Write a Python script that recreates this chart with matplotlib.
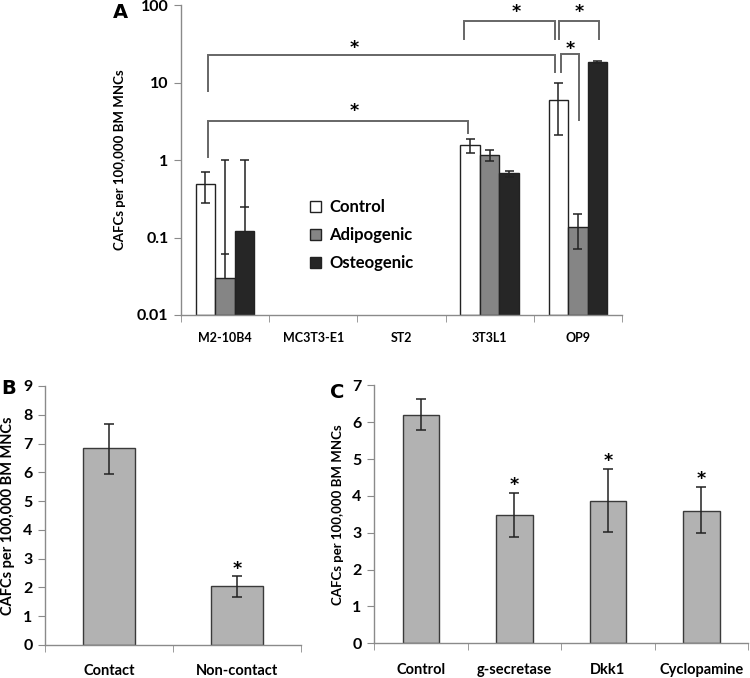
import numpy as np
import matplotlib.pyplot as plt
from matplotlib.patches import Patch

plt.rcParams['font.family'] = ['Lato', 'DejaVu Sans']
plt.rcParams['font.weight'] = 'bold'

# ---- panel A data (log scale) ----
cells = ['M2-10B4', 'MC3T3-E1', 'ST2', '3T3L1', 'OP9']
groups = ['Control', 'Adipogenic', 'Osteogenic']
a_idx = [0, 3, 4]  # cell lines that have bars
a_vals = {
    'Control':    [0.485, 1.54, 5.98],
    'Adipogenic': [0.030, 1.16, 0.137],
    'Osteogenic': [0.120, 0.67, 18.6],
}
a_hi = {
    'Control':    [0.71, 1.86, 9.9],
    'Adipogenic': [1.0, 1.34, 0.20],
    'Osteogenic': [1.0, 0.73, 19.2],
}
a_lo = {
    'Control':    [0.28, 1.23, 2.09],
    'Adipogenic': [0.062, 0.97, 0.072],
    'Osteogenic': [0.25, 0.61, 18.1],
}
a_colors = {'Control': 'white', 'Adipogenic': '#858585', 'Osteogenic': '#262626'}

# significance brackets: (x_left, x_right, y_top, y_left_end, y_right_end)
brackets = [
    (-0.19, 3.735, 22.4, 7.7, 13.6),
    (-0.19, 2.75, 3.19, 1.1, 2.24),
    (2.71, 3.735, 63, 36, 36),
    (3.785, 4.24, 63, 36, 36),
    (3.81, 4.01, 23.1, 13.6, 3.3),
]
stars_a = [(1.46, 32), (1.46, 5.0), (3.30, 95), (4.01, 95), (3.91, 31)]

# ---- panel B data ----
b_labels = ['Contact', 'Non-contact']
b_vals = [6.84, 2.06]
b_hi = [7.67, 2.41]
b_lo = [5.94, 1.66]
b_star = [False, True]

# ---- panel C data ----
c_labels = ['Control', 'g-secretase', 'Dkk1', 'Cyclopamine']
c_vals = [6.20, 3.48, 3.86, 3.60]
c_hi = [6.64, 4.09, 4.73, 4.24]
c_lo = [5.79, 2.88, 3.02, 2.98]
c_star = [False, True, True, True]

spine_col = '#8a8a8a'
bar_gray = '#b2b2b2'
edge_col = '#3a3a3a'
err_col = '#222222'
star_font = ['DejaVu Sans']


def style_axes(ax, ncat):
    for s in ['top', 'right']:
        ax.spines[s].set_visible(False)
    for s in ['left', 'bottom']:
        ax.spines[s].set_color(spine_col)
        ax.spines[s].set_linewidth(1.0)
    ax.set_xlim(-0.5, ncat - 0.5)
    ax.set_xticks(np.arange(ncat))
    ax.set_xticks(np.arange(ncat + 1) - 0.5, minor=True)
    ax.tick_params(axis='x', which='major', length=0, pad=14)
    ax.tick_params(axis='x', which='minor', length=5, color=spine_col, direction='out')
    ax.tick_params(axis='y', which='major', length=5, color=spine_col, direction='out', pad=4)
    ax.tick_params(axis='y', which='minor', length=0)


def star(ax, x, y, dy=0):
    # glyph centre sits ~7.1pt above the baseline at this size
    ax.annotate('*', (x, y), xytext=(0, dy - 7.1), textcoords='offset points',
                ha='center', va='baseline', fontsize=12.5, fontweight='bold',
                family=star_font, annotation_clip=False)


fig = plt.figure(figsize=(7.5, 6.78), dpi=100)

# ================= panel A =================
axA = fig.add_axes([0.2413, 0.5354, 0.588, 0.4572])
axA.set_yscale('log')
w = 0.222
x = np.array(a_idx, dtype=float)
for k, g in enumerate(groups):
    xs = x + (k - 1) * w
    axA.bar(xs, np.array(a_vals[g]) - 0.01, width=w, bottom=0.01, color=a_colors[g],
            edgecolor='#222222', linewidth=1.0, zorder=2)
    for xi, v, hi, lo in zip(xs, a_vals[g], a_hi[g], a_lo[g]):
        axA.vlines(xi, min(v, lo), hi, color=err_col, lw=1.1, zorder=3)
        axA.hlines([lo, hi], xi - 0.05, xi + 0.05, color=err_col, lw=1.1, zorder=3)

for xl, xr, yt, yl, yr in brackets:
    axA.plot([xl, xl, xr, xr], [yl, yt, yt, yr], color='#666666', lw=1.4,
             solid_joinstyle='miter', zorder=1)
for sx, sy in stars_a:
    star(axA, sx, sy)

axA.set_ylim(0.01, 100)
axA.set_yticks([0.01, 0.1, 1, 10, 100])
axA.set_yticklabels(['0.01', '0.1', '1', '10', '100'], fontsize=11.5, fontweight='bold')
style_axes(axA, len(cells))
axA.set_xticklabels(cells, fontsize=9, fontweight='bold')
axA.tick_params(axis='x', which='major', pad=12)
axA.set_ylabel('CAFCs per 100,000 BM MNCs', fontsize=9.5, fontweight='bold', labelpad=8)

handles = [Patch(facecolor=a_colors[g], edgecolor='#222222', linewidth=1.0) for g in groups]
axA.legend(handles, groups, loc='upper left', bbox_to_anchor=(310 / 750, 1 - 199 / 678),
           bbox_transform=fig.transFigure, frameon=False,
           prop={'weight': 'bold', 'size': 12}, handlelength=0.66, handleheight=0.66,
           handletextpad=0.5, labelspacing=0.72, borderpad=0, borderaxespad=0)
fig.text(113 / 750, 1 - 12 / 678, 'A', fontsize=14, fontweight='heavy', ha='left', va='center',
         family=['DejaVu Sans'])

# ================= panel B =================
axB = fig.add_axes([0.06, 0.0487, 0.3413, 0.382])
bx = np.arange(len(b_labels))
axB.bar(bx, b_vals, width=0.4, color=bar_gray, edgecolor=edge_col, linewidth=1.0, zorder=2)
axB.errorbar(bx, b_vals, yerr=[np.array(b_vals) - np.array(b_lo), np.array(b_hi) - np.array(b_vals)],
             fmt='none', ecolor=err_col, elinewidth=1.1, capsize=3.7, capthick=1.1, zorder=3)
for xi, hi, s in zip(bx, b_hi, b_star):
    if s:
        star(axB, xi, hi, dy=8)
axB.set_ylim(0, 9)
axB.set_yticks(range(0, 10))
axB.set_yticklabels([str(i) for i in range(0, 10)], fontsize=11.5, fontweight='bold')
style_axes(axB, len(b_labels))
axB.set_xticklabels(b_labels, fontsize=10.5, fontweight='bold')
axB.set_ylabel('CAFCs per 100,000 BM MNCs', fontsize=10.5, fontweight='bold', labelpad=6)
fig.text(1 / 750, 1 - 388 / 678, 'B', fontsize=14, fontweight='heavy', ha='left', va='center',
         family=['DejaVu Sans'])

# ================= panel C =================
axC = fig.add_axes([0.4987, 0.0512, 0.4987, 0.3805])
cx = np.arange(len(c_labels))
axC.bar(cx, c_vals, width=0.39, color=bar_gray, edgecolor=edge_col, linewidth=1.0, zorder=2)
axC.errorbar(cx, c_vals, yerr=[np.array(c_vals) - np.array(c_lo), np.array(c_hi) - np.array(c_vals)],
             fmt='none', ecolor=err_col, elinewidth=1.1, capsize=3.7, capthick=1.1, zorder=3)
for xi, hi, s in zip(cx, c_hi, c_star):
    if s:
        star(axC, xi, hi, dy=9)
axC.set_ylim(0, 7)
axC.set_yticks(range(0, 8))
axC.set_yticklabels([str(i) for i in range(0, 8)], fontsize=11.5, fontweight='bold')
style_axes(axC, len(c_labels))
axC.set_xticklabels(c_labels, fontsize=10.5, fontweight='bold')
axC.set_ylabel('CAFCs per 100,000 BM MNCs', fontsize=9.5, fontweight='bold', labelpad=6)
fig.text(330 / 750, 1 - 393 / 678, 'C', fontsize=14, fontweight='heavy', ha='left', va='center',
         family=['DejaVu Sans'])

fig.savefig('out.png', dpi=100)
